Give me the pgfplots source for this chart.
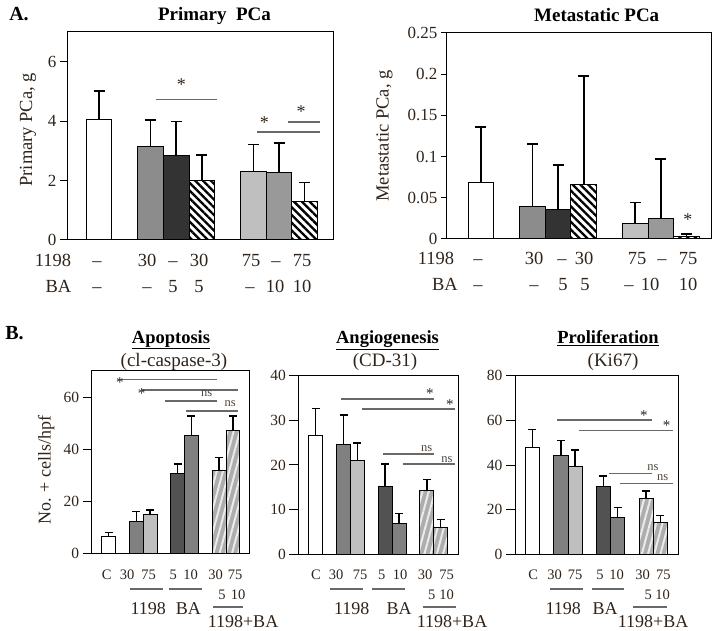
\documentclass[border=0pt]{standalone}
\usepackage{fontspec}
\setmainfont{Liberation Serif}
\usepackage{pgfplots}
\pgfplotsset{compat=1.18}
\usetikzlibrary{patterns.meta}
\definecolor{txt}{RGB}{48,36,26}
\definecolor{sigc}{RGB}{105,105,105}
\newcommand\fs[1]{\fontsize{#1}{#1}\selectfont}
\pgfplotsset{
  panel/.style={scale only axis, anchor=south west, clip=false, ymin=0,
    xtick=\empty, axis line style={black, line width=1pt},
    tick style={black, line width=1pt}, ytick pos=left, tick align=outside,
    scaled y ticks=false, /pgf/number format/assume math mode=true,
    yticklabel style={text=txt}, ylabel style={text=txt, anchor=center}},
  abar/.style={ybar, bar width=1, bar shift=0pt, draw=black, line width=1pt,
    error bars/y dir=plus, error bars/y explicit,
    error bars/error bar style={line width=1.5pt, black},
    error bars/error mark options={rotate=90, line width=1.5pt, black, mark size=5.5pt}},
  bbar/.style={ybar, bar width=1, bar shift=0pt, draw=black, line width=0.9pt,
    error bars/y dir=plus, error bars/y explicit,
    error bars/error bar style={line width=1.4pt, black},
    error bars/error mark options={rotate=90, line width=1.4pt, black, mark size=4pt}},
  ahatch/.style={fill=white, postaction={pattern={Lines[angle=-45,distance=5.5pt,line width=2.3pt]}, pattern color=black}},
  bhatch/.style={fill=black!32, postaction={pattern={Lines[angle=75,distance=6pt,line width=2pt]}, pattern color=black!8}},
}
\tikzset{sig/.style={sigc, line width=1.4pt},
  astar/.style={text=txt, font=\fs{18}, anchor=base, yshift=-9pt, inner sep=0pt},
  bstar/.style={text=txt, font=\fs{15}, anchor=base, yshift=-7.5pt, inner sep=0pt},
  ns/.style={text=txt!85, font=\fs{12.5}, anchor=base, yshift=-3pt, inner sep=0pt}}
\begin{document}
\begin{tikzpicture}
\useasboundingbox (0,0) rectangle (720pt,631pt);

% ---------- A left: Primary PCa ----------
\begin{axis}[panel, at={(67pt,391pt)}, width=266pt, height=208pt,
  xmin=-1.25, xmax=9.1, ymax=7, ytick={0,2,4,6}, yticklabels={0,2,4,6},
  major tick length=7pt, yticklabel style={font=\fs{17}},
  ylabel={Primary PCa, g},
  ylabel style={at={(axis description cs:-0.147,0.53)}, font=\fs{18.5}}]
\addplot[abar, fill=white] coordinates {(0,4.04) +- (0,0.98)};
\addplot[abar, fill=black!45] coordinates {(2,3.15) +- (0,0.89)};
\addplot[abar, fill=black!80] coordinates {(3,2.83) +- (0,1.16)};
\addplot[abar, ahatch] coordinates {(4,1.99) +- (0,0.87)};
\addplot[abar, fill=black!25] coordinates {(6,2.30) +- (0,0.92)};
\addplot[abar, fill=black!40] coordinates {(7,2.26) +- (0,1.00)};
\addplot[abar, ahatch] coordinates {(8,1.31) +- (0,0.62)};
\draw[sig] (2.21,4.72) -- (4.57,4.72);
\draw[sig] (7.36,3.97) -- (8.6,3.97);
\draw[sig] (6.16,3.64) -- (8.6,3.64);
\node[astar] at (3.2,5.33) {*};
\node[astar] at (7.86,4.41) {*};
\node[astar] at (6.43,4.07) {*};
\end{axis}

% ---------- A right: Metastatic PCa ----------
\begin{axis}[panel, at={(446pt,392pt)}, width=265pt, height=206pt,
  xmin=-1.36, xmax=8.95, ymax=0.25, ytick={0,0.05,0.1,0.15,0.2,0.25},
  yticklabels={0,0.05,0.1,0.15,0.2,0.25},
  major tick length=5pt, yticklabel style={font=\fs{17}},
  ylabel={Metastatic PCa, g},
  ylabel style={at={(axis description cs:-0.232,0.5)}, font=\fs{18.5}}]
\addplot[abar, fill=white] coordinates {(0,0.068) +- (0,0.068)};
\addplot[abar, fill=black!45] coordinates {(2,0.039) +- (0,0.076)};
\addplot[abar, fill=black!80] coordinates {(3,0.036) +- (0,0.054)};
\addplot[abar, ahatch] coordinates {(4,0.066) +- (0,0.132)};
\addplot[abar, fill=black!25] coordinates {(6,0.019) +- (0,0.0255)};
\addplot[abar, fill=black!40] coordinates {(7,0.025) +- (0,0.072)};
\addplot[abar, ahatch] coordinates {(8,0.003) +- (0,0.003)};
\node[astar] at (8.05,0.0267) {*};
\end{axis}

% ---------- B: Apoptosis ----------
\begin{axis}[panel, at={(91.7pt,77.7pt)}, width=157.3pt, height=182.6pt,
  xmin=-1.23, xmax=10.17, ymax=70.2, ytick={0,20,40,60}, yticklabels={0,20,40,60},
  major tick length=9pt, yticklabel style={font=\fs{15.5}},
  ylabel={No. + cells/hpf},
  ylabel style={at={(axis description cs:-0.29,0.456)}, font=\fs{18}}]
\addplot[bbar, fill=white] coordinates {(0,6.4) +- (0,1.7)};
\addplot[bbar, fill=black!50] coordinates {(2,12.4) +- (0,3.6)};
\addplot[bbar, fill=black!25] coordinates {(3,15.0) +- (0,1.7)};
\addplot[bbar, fill=black!68] coordinates {(5,30.8) +- (0,3.5)};
\addplot[bbar, fill=black!50] coordinates {(6,45.2) +- (0,7.6)};
\addplot[bbar, bhatch] coordinates {(8,31.8) +- (0,5.0)};
\addplot[bbar, bhatch] coordinates {(9,47.2) +- (0,5.6)};
\draw[sig] (0.67,66.7) -- (7.85,66.7);
\draw[sig] (2.39,62.8) -- (9.35,62.8);
\draw[sig] (4.08,58.6) -- (7.85,58.6);
\draw[sig] (5.6,54.7) -- (9.35,54.7);
\node[bstar] at (0.82,66.5) {*};
\node[bstar] at (2.39,62.5) {*};
\node[ns] at (7.1,61.3) {ns};
\node[ns] at (8.8,57.4) {ns};
\end{axis}

% ---------- B: Angiogenesis ----------
\begin{axis}[panel, at={(298.3pt,76.7pt)}, width=160pt, height=178.6pt,
  xmin=-1.26, xmax=10.27, ymax=40, ytick={0,10,20,30,40}, yticklabels={0,10,20,30,40},
  major tick length=9pt, yticklabel style={font=\fs{15.5}}]
\addplot[bbar, fill=white] coordinates {(0,26.6) +- (0,6.1)};
\addplot[bbar, fill=black!50] coordinates {(2,24.5) +- (0,6.7)};
\addplot[bbar, fill=black!25] coordinates {(3,21.1) +- (0,3.8)};
\addplot[bbar, fill=black!68] coordinates {(5,15.3) +- (0,4.9)};
\addplot[bbar, fill=black!50] coordinates {(6,6.95) +- (0,2.25)};
\addplot[bbar, bhatch] coordinates {(8,14.4) +- (0,2.4)};
\addplot[bbar, bhatch] coordinates {(9,6.05) +- (0,1.8)};
\draw[sig] (1.82,34.75) -- (8.52,34.75);
\draw[sig] (3.35,32.5) -- (10.03,32.5);
\draw[sig] (4.86,22.5) -- (8.52,22.5);
\draw[sig] (6.3,20.25) -- (10.03,20.25);
\node[bstar] at (8.23,36.5) {*};
\node[bstar] at (9.67,34.0) {*};
\node[ns] at (7.99,23.6) {ns};
\node[ns] at (9.45,21.3) {ns};
\end{axis}

% ---------- B: Proliferation ----------
\begin{axis}[panel, at={(515pt,76.7pt)}, width=163.3pt, height=178.6pt,
  xmin=-1.23, xmax=10.27, ymax=80, ytick={0,20,40,60,80}, yticklabels={0,20,40,60,80},
  major tick length=9pt, yticklabel style={font=\fs{15.5}}]
\addplot[bbar, fill=white] coordinates {(0,48.0) +- (0,8.0)};
\addplot[bbar, fill=black!50] coordinates {(2,44.5) +- (0,6.4)};
\addplot[bbar, fill=black!25] coordinates {(3,39.3) +- (0,7.5)};
\addplot[bbar, fill=black!68] coordinates {(5,30.6) +- (0,4.5)};
\addplot[bbar, fill=black!50] coordinates {(6,16.6) +- (0,4.3)};
\addplot[bbar, bhatch] coordinates {(8,24.8) +- (0,3.6)};
\addplot[bbar, bhatch] coordinates {(9,14.2) +- (0,3.1)};
\draw[sig] (1.75,60.2) -- (8.39,60.2);
\draw[sig] (3.27,55.4) -- (9.87,55.4);
\draw[sig] (5.41,36.3) -- (8.39,36.3);
\draw[sig] (6.16,31.8) -- (9.87,31.8);
\node[bstar] at (7.85,63.5) {*};
\node[bstar] at (9.45,58.7) {*};
\node[ns] at (8.49,38.9) {ns};
\node[ns] at (9.17,34.5) {ns};
\end{axis}

% ---------- text in image pixel coordinates ----------
\begin{scope}[x=1pt, y=-1pt, yshift=631pt, every node/.style={inner sep=0pt, anchor=base, text=txt}]
\node[font=\fs{20}\bfseries, text=black] at (19,20.7) {A.};
\node[font=\fs{19}\bfseries, text=black] at (214.5,20.5) {Primary\ \ PCa};
\node[font=\fs{19}\bfseries, text=black] at (596.7,21.5) {Metastatic PCa};
% A left rows
\begin{scope}[every node/.append style={font=\fs{18.5}}]
\node at (53,266.5) {1198};
\foreach \x/\t in {97/--,147/30,173/--,199/30,251/75,276/--,302/75} \node at (\x,266.5) {\t};
\node at (58.5,293) {BA};
\foreach \x/\t in {97/--,147/--,173/5,199/5,250/--,275/10,302/10} \node at (\x,293) {\t};
% A right rows
\node at (436,264.5) {1198};
\foreach \x/\t in {478/--,534/30,562/--,584/30,637/75,662/--,688/75} \node at (\x,264.5) {\t};
\node at (445,290.5) {BA};
\foreach \x/\t in {478/--,534/--,563/5,585/5,629/--,650/10,688/10} \node at (\x,290.5) {\t};
\end{scope}
% B titles
\node[font=\fs{20}\bfseries, text=black] at (14.5,340) {B.};
\node[font=\fs{18.5}\bfseries, text=black] at (171,343.3) {\underline{Apoptosis}};
\node[font=\fs{19}] at (174,366.5) {(cl-caspase-3)};
\node[font=\fs{18.5}\bfseries, text=black] at (387.5,343.3) {\underline{Angiogenesis}};
\node[font=\fs{19}] at (385,366.5) {(CD-31)};
\node[font=\fs{18.5}\bfseries, text=black] at (608,343.3) {\underline{Proliferation}};
\node[font=\fs{19}] at (613,366.5) {(Ki67)};
% B category rows
\begin{scope}[every node/.append style={font=\fs{14.5}}]
\foreach \x/\t in {106.7/C,127/30,148.5/75,173.3/5,190.7/10,215.5/30,235/75,
                   316/C,336/30,360/75,381.7/5,400/10,425/30,446.7/75,
                   533.3/C,554.5/30,575/75,600/5,616.7/10,642.7/30,663.3/75} \node at (\x,580) {\t};
\foreach \x/\t in {222/5,238/10,431.7/5,446.7/10,648.3/5,662.7/10} \node at (\x,600) {\t};
\end{scope}
\begin{scope}[every node/.append style={font=\fs{18}}]
\foreach \x/\t in {148.3/1198,188.3/BA,351.7/1198,399/BA,563.3/1198,605/BA} \node at (\x,615) {\t};
\foreach \x in {243,452,653} \node at (\x,627.5) {1198+BA};
\end{scope}
\foreach \a/\b/\y in {130/163.3/589,169.3/201.7/589,213/243/607,
                      330/363.3/589,371.7/405/589,422.7/456/607,
                      550/583.3/589,591.7/624.3/589,633.3/666.7/607}
  \draw[sigc, line width=1.3pt] (\a,\y) -- (\b,\y);
\end{scope}
\end{tikzpicture}
\end{document}
